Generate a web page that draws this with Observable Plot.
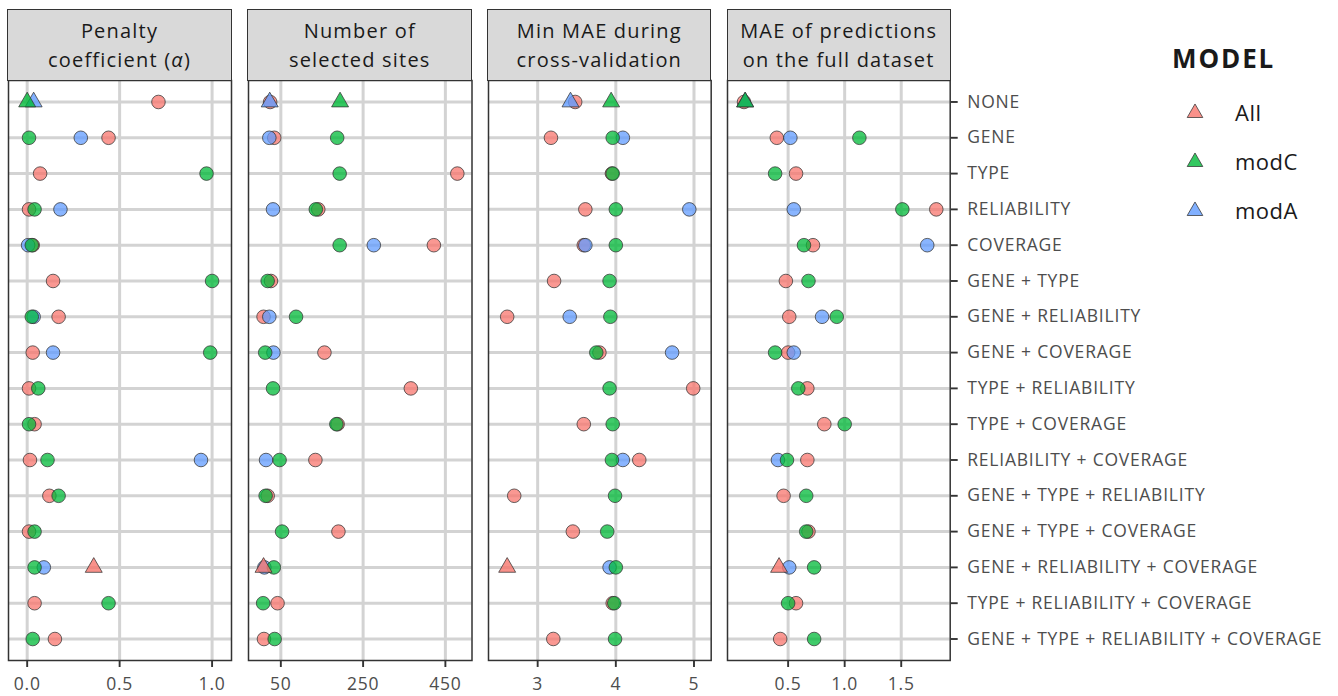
<!DOCTYPE html>
<html><head><meta charset="utf-8">
<script src="https://cdn.jsdelivr.net/npm/d3@7"></script>
<script src="https://cdn.jsdelivr.net/npm/@observablehq/plot@0.6"></script>
<style>
body{margin:0;background:#fff;font-family:"Open Sans",sans-serif;}
#root{position:relative;width:1338px;height:696px;overflow:hidden;background:#fff;}
.panel{position:absolute;top:0;}
.strip{position:absolute;top:8.5px;height:72px;box-sizing:border-box;background:#d9d9d9;border:1.5px solid #333;display:flex;flex-direction:column;align-items:center;justify-content:center;text-align:center;font-size:20px;letter-spacing:1.2px;line-height:27.5px;color:#1a1a1a;}
.strip div{padding-top:1px;}
g[aria-label="x-axis tick"], g[aria-label="y-axis tick"]{stroke:#333;stroke-width:1.9px;}
g[aria-label="x-axis tick label"], g[aria-label="y-axis tick label"]{fill:#4d4d4d;letter-spacing:0.8px;}
.legend{position:absolute;left:1172px;top:40px;color:#1a1a1a;}
.legend .title{font-weight:700;font-size:26px;letter-spacing:1.9px;line-height:36px;}
.legend .item{position:absolute;left:0;height:30px;display:flex;align-items:center;white-space:nowrap;}
.legend .item span{position:absolute;left:63px;font-size:22px;letter-spacing:0.5px;}
</style>
</head><body><div id="root"></div>
<script>
const categories = ["NONE","GENE","TYPE","RELIABILITY","COVERAGE","GENE + TYPE","GENE + RELIABILITY","GENE + COVERAGE","TYPE + RELIABILITY","TYPE + COVERAGE","RELIABILITY + COVERAGE","GENE + TYPE + RELIABILITY","GENE + TYPE + COVERAGE","GENE + RELIABILITY + COVERAGE","TYPE + RELIABILITY + COVERAGE","GENE + TYPE + RELIABILITY + COVERAGE"];
const models = ["All","modC","modA"];
const modelColors = ["#F8766D","#00BA38","#619CFF"];
const drawOrder = ["All","modA","modC"];
const bestCategory = ["GENE + RELIABILITY + COVERAGE","NONE","NONE"];

// Penalty coefficient (alpha)
const alphaAll  = [0.71,0.44,0.07,0.01,0.03,0.14,0.17,0.03,0.01,0.04,0.015,0.12,0.01,0.36,0.04,0.15];
const alphaModC = [0.0,0.01,0.97,0.04,0.025,1.0,0.025,0.99,0.06,0.01,0.11,0.17,0.04,0.04,0.44,0.03];
const alphaModA = [0.035,0.29,null,0.18,0.005,null,0.035,0.14,null,null,0.94,null,null,0.09,null,null];
// Number of selected sites
const sitesAll  = [24,34,479,141,422,26,8,156,366,188,134,18,190,8,42,9];
const sitesModC = [194,187,193,135,193,18,87,12,31,185,47,13,53,33,7,35];
const sitesModA = [23,22,null,31,276,null,22,32,null,null,14,null,null,10,null,null];
// Min MAE during cross-validation
const cvAll  = [3.48,3.17,3.95,3.61,3.59,3.21,2.61,3.79,4.99,3.59,4.30,2.70,3.45,2.61,3.96,3.20];
const cvModC = [3.94,3.96,3.96,4.00,4.00,3.92,3.93,3.75,3.92,3.96,3.95,3.99,3.89,4.00,3.98,3.99];
const cvModA = [3.42,4.09,null,4.94,3.61,null,3.41,4.72,null,null,4.09,null,null,3.92,null,null];
// MAE of predictions on the full dataset
const fullAll  = [0.11,0.40,0.57,1.81,0.72,0.48,0.51,0.50,0.67,0.82,0.67,0.46,0.68,0.42,0.57,0.43];
const fullModC = [0.12,1.13,0.385,1.51,0.64,0.68,0.93,0.385,0.59,1.00,0.49,0.66,0.66,0.73,0.50,0.73];
const fullModA = [0.12,0.52,null,0.55,1.73,null,0.80,0.55,null,null,0.41,null,null,0.51,null,null];

const titles = [["Penalty","coefficient (<i>α</i>)"],["Number of","selected sites"],["Min MAE during","cross-validation"],["MAE of predictions","on the full dataset"]];
const ticks1 = [0,0.5,1.0], ticks2 = [50,250,450], ticks3 = [3,4,5], ticks4 = [0.5,1.0,1.5];

const panels = [
  {series:{All:alphaAll,modC:alphaModC,modA:alphaModA}, ticks:ticks1, fmt:d3.format(".1f"), domain:[-0.101,1.105], left:8, right:231},
  {series:{All:sitesAll,modC:sitesModC,modA:sitesModA}, ticks:ticks2, fmt:d3.format("d"), domain:[-28.6,514.7], left:248, right:471.5},
  {series:{All:cvAll,modC:cvModC,modA:cvModA}, ticks:ticks3, fmt:d3.format("d"), domain:[2.371,5.22], left:488, right:710.7},
  {series:{All:fullAll,modC:fullModC,modA:fullModA}, ticks:ticks4, fmt:d3.format(".1f"), domain:[-0.036,1.933], left:727.3, right:950}
];

function buildRows(series){
  const out=[];
  for(const m of drawOrder){
    const vals=series[m];
    categories.forEach((c,i)=>{
      if(vals[i]!=null) out.push({model:m,category:c,value:vals[i],best:c===bestCategory[models.indexOf(m)]});
    });
  }
  return out;
}

const root=document.getElementById("root");
panels.forEach((p,i)=>{
  const rows=buildRows(p.series);
  const ml=4, mr = i===3 ? 392 : 4;
  const w = p.right-p.left;
  const chart = Plot.plot({
    width: w+ml+mr, height:696, marginTop:80, marginBottom:36, marginLeft:ml, marginRight:mr,
    style:{fontFamily:"Open Sans", fontSize:"17.5px", background:"transparent", overflow:"visible"},
    x:{domain:p.domain, axis:null, label:null},
    y:{type:"point", domain:categories, padding:0.6, round:false, axis: i===3 ? undefined : null, label:null},
    color:{domain:models, range:modelColors},
    marks:[
      Plot.gridX(p.ticks,{stroke:"#d3d3d3",strokeOpacity:1,strokeWidth:3}),
      Plot.gridY(categories,{stroke:"#d3d3d3",strokeOpacity:1,strokeWidth:3}),
      Plot.axisX(p.ticks,{tickSize:7,tickPadding:10,tickFormat:p.fmt,label:null}),
      i===3 ? Plot.axisY({anchor:"right",tickSize:7,tickPadding:10,label:null}) : null,
      Plot.dot(rows.filter(d=>!d.best),{x:"value",y:"category",fill:"model",r:6.8,stroke:"#333",strokeOpacity:0.75,fillOpacity:0.75,strokeWidth:1}),
      Plot.dot(rows.filter(d=>d.best),{x:"value",y:"category",fill:"model",symbol:"triangle",r:6.3,stroke:"#333",strokeOpacity:0.75,fillOpacity:0.8,strokeWidth:1}),
      Plot.frame({stroke:"#333",strokeWidth:1.5})
    ]
  });
  chart.classList.add("panel");
  chart.style.left=(p.left-ml)+"px";
  root.appendChild(chart);
  const s=document.createElement("div");
  s.className="strip";
  s.style.left=(p.left-0.75)+"px";
  s.style.width=(w+1.5)+"px";
  s.innerHTML=titles[i].map(t=>`<div>${t}</div>`).join("");
  root.appendChild(s);
});

// legend
const lg=document.createElement("div");
lg.className="legend";
lg.innerHTML=`<div class="title">MODEL</div>`;
const tri=d3.symbol(d3.symbolTriangle, 5.8*5.8*Math.PI)();
models.forEach((m,i)=>{
  const it=document.createElement("div");
  it.className="item";
  it.style.top=(57+i*49)+"px";
  it.innerHTML=`<svg width="46" height="30" style="position:absolute;left:0;top:0"><path d="${tri}" transform="translate(23,16)" fill="${modelColors[i]}" fill-opacity="0.8" stroke="#333" stroke-opacity="0.75"/></svg><span>${m}</span>`;
  lg.appendChild(it);
});
root.appendChild(lg);
</script></body></html>
